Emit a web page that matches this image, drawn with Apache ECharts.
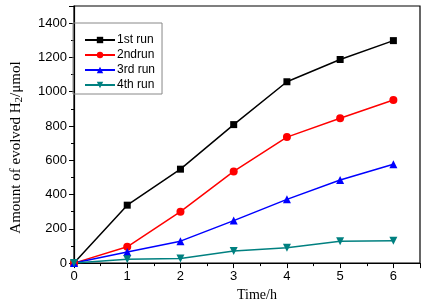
<!DOCTYPE html>
<html>
<head>
<meta charset="utf-8">
<script src="https://cdn.jsdelivr.net/npm/echarts@6/dist/echarts.min.js"></script>
<style>
  html, body { margin: 0; padding: 0; background: #fff; }
  #chart { width: 425px; height: 307px; }
</style>
</head>
<body>
<div id="chart"></div>
<script>
// time points (h)
const hours = [0, 1, 2, 3, 4, 5, 6];
// evolved H2 (umol) per run
const run1 = [0, 338, 548, 808, 1058, 1188, 1298];
const run2 = [0, 95, 300, 535, 735, 845, 952];
const run3 = [0, 65, 128, 248, 372, 485, 577];
const run4 = [0, 22, 27, 70, 90, 128, 130];
const runNames = ['1st run', '2ndrun', '3rd run', '4th run'];

const pairs = arr => arr.map((v, i) => [hours[i], v]);

let chart = echarts.init(document.getElementById('chart'), null, { renderer: 'canvas' });

const serif = 'Liberation Serif, Times New Roman, serif';
const sans = 'Liberation Sans, Arial, sans-serif';

function lineSeries(name, data, color, symbol, size, rotate) {
  return {
    name,
    type: 'line',
    data: pairs(data),
    symbol,
    symbolSize: size,
    symbolRotate: rotate || 0,
    showAllSymbol: true,
    lineStyle: { color, width: 1.5 },
    itemStyle: { color },
    z: 3
  };
}

chart.setOption({
  animation: false,
  backgroundColor: '#fff',
  grid: {
    left: 65, right: 5, top: 6, bottom: 39,
    show: true, borderColor: '#000', borderWidth: 1.2
  },
  legend: {
    left: 73, top: 23,
    orient: 'vertical',
    data: runNames,
    itemWidth: 30, itemHeight: 8,
    itemGap: 3,
    padding: [11, 7, 3, 11],
    borderColor: '#888', borderWidth: 1,
    textStyle: { fontFamily: sans, fontSize: 12, color: '#000', padding: [0, 0, 0, -3] }
  },
  xAxis: {
    type: 'value',
    min: 0, max: 6.5, interval: 1,
    name: 'Time/h',
    nameLocation: 'middle',
    nameGap: 20,
    nameTextStyle: { fontFamily: serif, fontSize: 14, color: '#000', padding: [0, 0, 0, 20] },
    axisLine: { show: true, onZero: false, lineStyle: { color: '#000', width: 1.2 } },
    axisTick: { show: true, inside: false, length: 5, lineStyle: { color: '#000' } },
    minorTick: { show: true, splitNumber: 2, length: 3, lineStyle: { color: '#000' } },
    axisLabel: { fontFamily: sans, fontSize: 13, color: '#000', margin: 7, showMaxLabel: false },
    splitLine: { show: false }
  },
  yAxis: {
    type: 'value',
    min: 0, max: 1500, interval: 200,
    name: '{a|Amount of evolved H}{s|2}{a|/μmol}',
    nameLocation: 'middle',
    nameRotate: 90,
    nameGap: 49,
    nameTextStyle: {
      fontFamily: serif, fontSize: 15, color: '#000', padding: [0, 0, 0, -26],
      rich: {
        a: { fontFamily: serif, fontSize: 15, color: '#000', lineHeight: 17 },
        s: { fontFamily: serif, fontSize: 11, color: '#000', lineHeight: 17, verticalAlign: 'bottom', padding: [6, 0, 0, 0] }
      }
    },
    axisLine: { show: true, onZero: false, lineStyle: { color: '#000', width: 1.2 } },
    axisTick: { show: true, inside: false, length: 5, lineStyle: { color: '#000' } },
    minorTick: { show: true, splitNumber: 2, length: 3, lineStyle: { color: '#000' } },
    axisLabel: {
      fontFamily: sans, fontSize: 13, color: '#000', margin: 7, showMaxLabel: false,
      formatter: v => String(v)
    },
    splitLine: { show: false }
  },
  series: [
    lineSeries(runNames[0], run1, '#000000', 'rect', 7),
    lineSeries(runNames[1], run2, '#ff0000', 'circle', 8),
    lineSeries(runNames[2], run3, '#0000ff', 'triangle', 8),
    lineSeries(runNames[3], run4, '#008080', 'triangle', 8, 180)
  ]
});
</script>
</body>
</html>
